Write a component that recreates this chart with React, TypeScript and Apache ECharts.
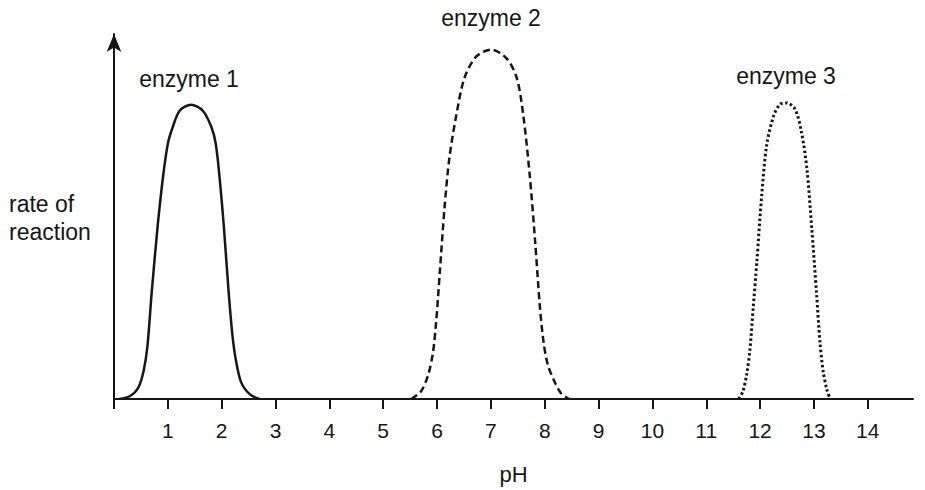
import React, { useEffect, useRef } from "react";
import * as echarts from "echarts";

const tickValues = [0, 1, 2, 3, 4, 5, 6, 7, 8, 9, 10, 11, 12, 13, 14];
const labelValues = [1, 2, 3, 4, 5, 6, 7, 8, 9, 10, 11, 12, 13, 14];

const enzyme1Ph = [0.1, 0.3, 0.45, 0.55, 0.62, 0.7, 0.81, 0.91, 1.0, 1.09, 1.22, 1.43, 1.65, 1.81, 1.89, 1.96, 2.04, 2.13, 2.2, 2.26, 2.36, 2.52, 2.7];
const enzyme1Rate = [0, 0.8, 3, 7.5, 14, 28.4, 46.1, 59.3, 68.2, 72.6, 77, 78.6, 77, 72.6, 68.2, 59.3, 46.1, 28.4, 17, 10.7, 4.5, 1.3, 0];

const enzyme2Ph = [5.52, 5.7, 5.83, 5.92, 5.98, 6.05, 6.14, 6.23, 6.36, 6.51, 6.73, 7.01, 7.29, 7.48, 7.6, 7.72, 7.82, 7.91, 7.98, 8.06, 8.19, 8.3, 8.45];
const enzyme2Rate = [0, 2, 6.2, 12, 20, 33.6, 51.3, 64.5, 76, 85.8, 91.5, 93.3, 91, 85.8, 76, 60, 42.4, 24.7, 15, 9, 4.4, 1.6, 0];

const enzyme3Ph = [11.6, 11.68, 11.75, 11.81, 11.87, 11.94, 12.03, 12.12, 12.25, 12.37, 12.49, 12.65, 12.77, 12.87, 12.96, 13.05, 13.11, 13.17, 13.24, 13.3];
const enzyme3Rate = [0, 2, 6.5, 13, 24, 36.7, 54.4, 67.6, 75.6, 78.7, 79.1, 77.4, 71.2, 61.4, 45.5, 27.9, 15.5, 7.5, 2.5, 0];

const zip = (xs: number[], ys: number[]) => xs.map((x, i) => [x, ys[i]]);

const FONT = "'Liberation Sans', Arial, sans-serif";
const INK = "#161616";

export default function App() {
  const ref = useRef<HTMLDivElement>(null);
  useEffect(() => {
    document.body.style.margin = "0";
    if (!ref.current) return;
    const chart = echarts.init(ref.current, undefined, { renderer: "svg" });
    const lineBase = { type: "line", showSymbol: false, smooth: 0.3, silent: true };
    chart.setOption({
      animation: false,
      backgroundColor: "#ffffff",
      grid: { left: 114, right: 12, top: 34, bottom: 88 },
      xAxis: {
        type: "value",
        min: 0,
        max: 14.84,
        name: "pH",
        nameLocation: "middle",
        nameGap: 64,
        nameTextStyle: { fontFamily: FONT, fontSize: 22, color: INK },
        axisLine: { show: true, lineStyle: { color: INK, width: 2 } },
        axisTick: { show: true, customValues: tickValues, length: 10, lineStyle: { color: INK, width: 2 } },
        axisLabel: { customValues: labelValues, margin: 21, fontFamily: FONT, fontSize: 21, color: INK },
        splitLine: { show: false },
      },
      yAxis: {
        type: "value",
        min: 0,
        max: 97.5,
        axisLine: {
          show: true,
          symbol: ["none", "arrow"],
          symbolSize: [11, 18],
          lineStyle: { color: INK, width: 2 },
        },
        axisTick: { show: false },
        axisLabel: { show: false },
        splitLine: { show: false },
      },
      graphic: [
        {
          type: "text",
          left: 9,
          top: 190,
          style: { text: "rate of\nreaction", font: `23px ${FONT}`, fill: INK, lineHeight: 28, align: "left" },
        },
        { type: "text", x: 189, y: 79, style: { text: "enzyme 1", font: `23px ${FONT}`, fill: INK, align: "center", verticalAlign: "middle" } },
        { type: "text", x: 491, y: 18, style: { text: "enzyme 2", font: `23px ${FONT}`, fill: INK, align: "center", verticalAlign: "middle" } },
        { type: "text", x: 786, y: 76, style: { text: "enzyme 3", font: `23px ${FONT}`, fill: INK, align: "center", verticalAlign: "middle" } },
      ],
      series: [
        { ...lineBase, name: "enzyme 1", data: zip(enzyme1Ph, enzyme1Rate), lineStyle: { color: INK, width: 2.5, type: "solid" } },
        { ...lineBase, name: "enzyme 2", data: zip(enzyme2Ph, enzyme2Rate), lineStyle: { color: INK, width: 2.5, type: [7, 4] } },
        { ...lineBase, name: "enzyme 3", data: zip(enzyme3Ph, enzyme3Rate), lineStyle: { color: INK, width: 3, type: [2.5, 2.5] } },
      ],
    });
    return () => chart.dispose();
  }, []);
  return <div ref={ref} style={{ width: 925, height: 490 }} />;
}
